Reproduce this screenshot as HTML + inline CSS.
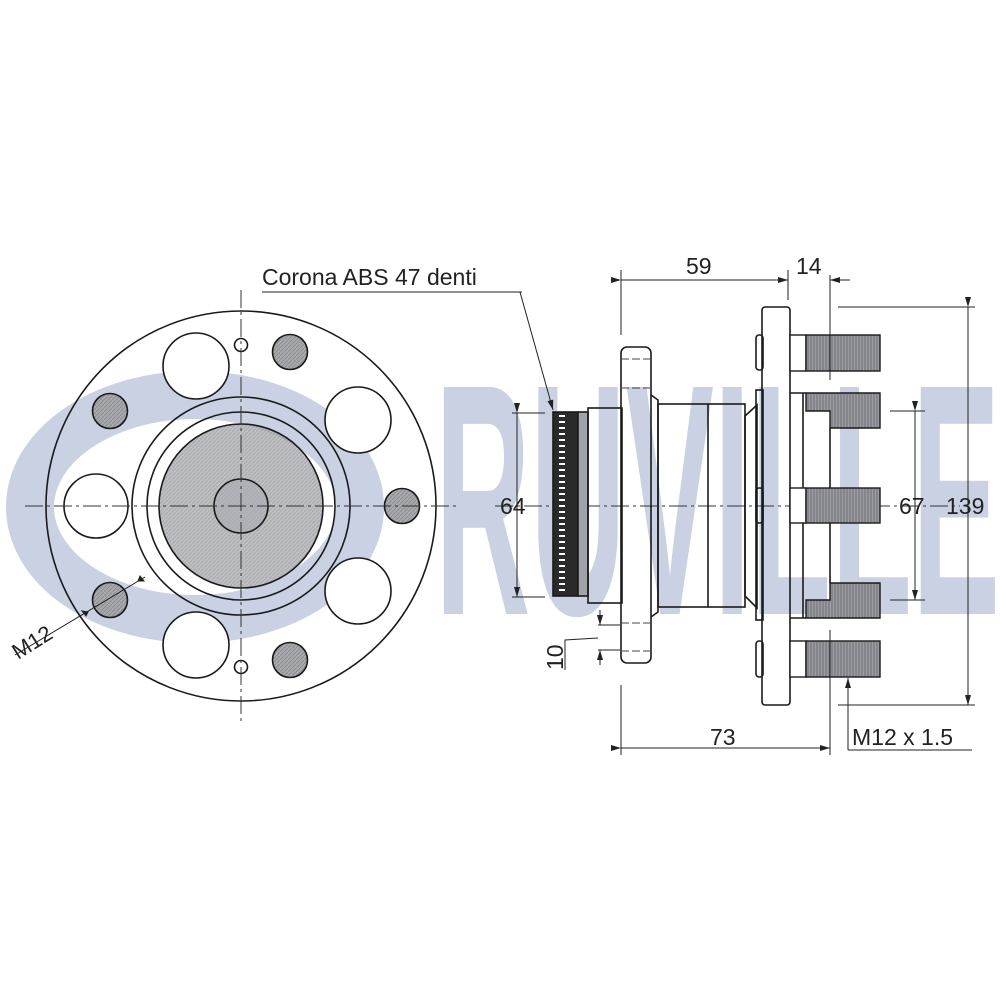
<!DOCTYPE html>
<html><head><meta charset="utf-8"><style>html,body{margin:0;padding:0;background:#fff}svg{display:block}</style></head>
<body>
<svg width="1000" height="1000" viewBox="0 0 1000 1000" xmlns="http://www.w3.org/2000/svg" font-family="Liberation Sans, sans-serif">
<defs>
<pattern id="hatch" width="4" height="4" patternUnits="userSpaceOnUse"><rect width="4" height="4" fill="#a7a9ad"/><path d="M0 4L4 0" stroke="#8c8e93" stroke-width="1"/></pattern>
<pattern id="thr" width="6" height="6" patternUnits="userSpaceOnUse"><rect width="6" height="6" fill="#9a9ca1"/><path d="M1 0V6M4 0V6" stroke="#6f7176" stroke-width="1"/></pattern>
<marker id="ar" markerWidth="10" markerHeight="6" refX="10" refY="3" orient="auto" markerUnits="userSpaceOnUse"><path d="M0 0L10 3L0 6z" fill="#222"/></marker>
</defs>
<g fill="#c9d1e3" stroke="none">
<ellipse cx="195" cy="507" rx="165" ry="112" fill="none" stroke="#c9d1e3" stroke-width="48"/>
<text x="435" y="614" font-size="330" font-weight="bold" textLength="565" lengthAdjust="spacingAndGlyphs">RUVILLE</text>
</g>
<g fill="none" stroke="#1a1a1a" stroke-width="1.6">
<circle cx="241" cy="506" r="195"/>
<circle cx="241" cy="506" r="109"/>
<circle cx="241" cy="506" r="94"/>
<circle cx="241" cy="506" r="82" fill="url(#hatch)" fill-opacity="0.75"/>
<circle cx="241" cy="506" r="27" fill="#a8acb4" fill-opacity="0.6"/>
<circle cx="196" cy="366" r="33" fill="#fff"/>
<circle cx="358" cy="420" r="33" fill="#fff"/>
<circle cx="96" cy="506" r="32" fill="#fff"/>
<circle cx="358" cy="591" r="33" fill="#fff"/>
<circle cx="196" cy="645" r="33" fill="#fff"/>
<circle cx="290" cy="352" r="17.5" fill="url(#hatch)"/>
<circle cx="110" cy="411" r="17.5" fill="url(#hatch)"/>
<circle cx="402" cy="506" r="17.5" fill="url(#hatch)"/>
<circle cx="110" cy="600" r="17.5" fill="url(#hatch)"/>
<circle cx="290" cy="660" r="17.5" fill="url(#hatch)"/>
<circle cx="241" cy="345" r="6.5" fill="#fff"/>
<circle cx="241" cy="667" r="6.5" fill="#fff"/>
</g>
<g stroke="#333" stroke-width="1" stroke-dasharray="18,4,3,4" fill="none">
<line x1="25" y1="506" x2="457" y2="506"/>
<line x1="241" y1="290" x2="241" y2="722"/>
<line x1="495" y1="506" x2="960" y2="506"/>
</g>
<g stroke="#222" stroke-width="1" fill="none">
<line x1="15" y1="655" x2="145" y2="577"/>
<path d="M88 612 l-6 -1 l4 5z M138 581 l6 0 l-4 -5z" fill="#222"/>
</g>
<text x="0" y="0" font-size="22" fill="#222" transform="translate(18,660) rotate(-32)">M12</text>

<g stroke="#1a1a1a" stroke-width="1.6" fill="#fff">
<rect x="553" y="412" width="25" height="184" fill="#2a2a2a"/>
<rect x="578" y="412" width="10" height="184" fill="#a0a3a8"/>
<rect x="588" y="408" width="34" height="195" fill="none"/>
<rect x="621" y="347" width="30" height="316" rx="6" fill="none"/>
<path d="M651 395 L658 400 V612 L651 617" fill="none"/>
<rect x="658" y="404" width="87" height="203" fill="none"/>
<line x1="708" y1="404" x2="708" y2="607"/>
<path d="M745 416 L757 405 V608 L745 596z" fill="none"/>
<rect x="756" y="390" width="7" height="230" fill="none"/>
<rect x="762" y="307" width="28" height="398" rx="3" fill="none"/>
<rect x="756" y="335" width="7" height="35" rx="3" fill="none"/>
<rect x="756" y="488" width="7" height="35" rx="3" fill="none"/>
<rect x="756" y="641" width="7" height="36" rx="3" fill="none"/>
<path d="M790 393 H806 M790 618 H806 M830 428 V583" fill="none"/>
<path d="M803 393 V618" fill="none"/>
</g>
<g stroke="#fff">
<line x1="562" y1="415" x2="562" y2="593" stroke-dasharray="2,4" stroke-width="6"/>
</g>
<g stroke="#1a1a1a" stroke-width="1.4">
<rect x="790" y="335" width="16" height="36" fill="#fff"/><rect x="806" y="335" width="74" height="36" fill="url(#thr)"/>
<path d="M806 393 H880 V428 H830 V411 H806z" fill="url(#thr)"/>
<rect x="790" y="488" width="16" height="35" fill="#fff"/><rect x="806" y="488" width="74" height="35" fill="url(#thr)"/>
<path d="M806 618 H880 V583 H830 V600 H806z" fill="url(#thr)"/>
<rect x="790" y="641" width="16" height="36" fill="#fff"/><rect x="806" y="641" width="74" height="36" fill="url(#thr)"/>
</g>
<g stroke="#444" stroke-width="1" stroke-dasharray="8,3" fill="none">
<line x1="621" y1="359" x2="651" y2="359"/><line x1="621" y1="388" x2="651" y2="388"/>
<line x1="621" y1="623" x2="651" y2="623"/><line x1="621" y1="651" x2="651" y2="651"/>
</g>
<g stroke="#222" stroke-width="1" fill="none">
<line x1="621" y1="270" x2="621" y2="335"/><line x1="788" y1="270" x2="788" y2="300"/><line x1="830" y1="275" x2="830" y2="380"/>
<line x1="621" y1="280" x2="788" y2="280" marker-start="url(#ar)" marker-end="url(#ar)"/>
<line x1="850" y1="280" x2="830" y2="280" marker-end="url(#ar)"/>
<line x1="838" y1="307" x2="975" y2="307"/><line x1="838" y1="705" x2="975" y2="705"/>
<line x1="968" y1="307" x2="968" y2="705" marker-start="url(#ar)" marker-end="url(#ar)"/>
<line x1="890" y1="411" x2="925" y2="411"/><line x1="890" y1="600" x2="925" y2="600"/>
<line x1="915" y1="411" x2="915" y2="600" marker-start="url(#ar)" marker-end="url(#ar)"/>
<line x1="512" y1="413" x2="545" y2="413"/><line x1="512" y1="597" x2="545" y2="597"/>
<line x1="517" y1="413" x2="517" y2="597" marker-start="url(#ar)" marker-end="url(#ar)"/>
<line x1="621" y1="685" x2="621" y2="755"/><line x1="830" y1="630" x2="830" y2="755"/>
<line x1="621" y1="748" x2="830" y2="748" marker-start="url(#ar)" marker-end="url(#ar)"/>
<line x1="848" y1="750" x2="848" y2="678" marker-end="url(#ar)"/>
<line x1="848" y1="750" x2="972" y2="750"/>
<line x1="598" y1="625" x2="620" y2="625"/><line x1="598" y1="650" x2="620" y2="650"/>
<line x1="600" y1="610" x2="600" y2="625" marker-end="url(#ar)"/><line x1="600" y1="665" x2="600" y2="650" marker-end="url(#ar)"/>
<path d="M565 670 V640 L598 638"/>
<line x1="262" y1="292" x2="522" y2="292"/>
<line x1="520" y1="292" x2="553" y2="410" marker-end="url(#ar)"/>
</g>
<g font-size="23" fill="#222">
<text x="262" y="285">Corona ABS 47 denti</text>
<text x="686" y="274">59</text>
<text x="796" y="274">14</text>
<text x="899" y="514">67</text>
<text x="946" y="514">139</text>
<text x="500" y="514">64</text>
<text x="710" y="745">73</text>
<text x="852" y="745">M12 x 1.5</text>
<text x="0" y="0" transform="translate(563,670) rotate(-90)">10</text>
</g>
</svg>
</body></html>
